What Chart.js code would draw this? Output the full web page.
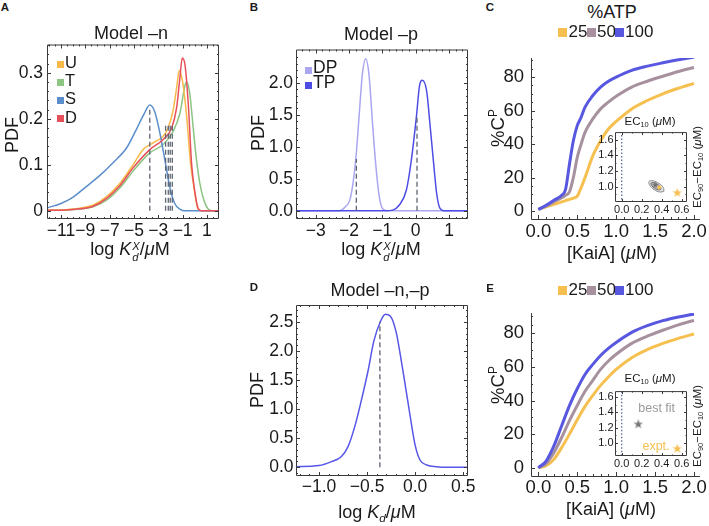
<!DOCTYPE html>
<html>
<head>
<meta charset="utf-8">
<script src="https://cdn.jsdelivr.net/npm/chart.js@4.4.1/dist/chart.umd.min.js"></script>
<style>
  html, body { margin: 0; padding: 0; background: #fff; }
  #fig { position: relative; width: 709px; height: 526px; overflow: hidden;
         font-family: "Liberation Sans", Arial, sans-serif; color: #1a1a1a; }
  #fig canvas { position: absolute; }
  .lab { position: absolute; white-space: nowrap; line-height: 1; transform: translate(-50%, -50%); }
  .rot { transform: translate(-50%, -50%) rotate(-90deg); }
  .sq { position: absolute; }
  .lab sub { font-size: 0.65em; vertical-align: -0.3em; line-height: 0; }
  .lab sup { font-size: 0.65em; vertical-align: 0.55em; line-height: 0; }
  .ss { display: inline-flex; flex-direction: column; font-size: 0.62em; line-height: 0.95;
        vertical-align: 0.45em; margin-left: 1px; font-style: italic; }
</style>
</head>
<body>
<div id="fig"></div>
<script>
// ---- A: Model -n, PDF of log Kd for U / T / S / D ----
const aSeries = ['U', 'T', 'S', 'D'];
const aColors = ['#f6b94a', '#8cc482', '#5b8ecb', '#e7505a'];
const aX_U = [-12.2, -10, -8.35, -7.25, -6.15, -5.05, -4.25, -3.4, -2.6, -2.2, -1.8, -1.5, -1.28, -1.0, -0.68, -0.34, -0.07, 0.2, 0.5, 2.1];
const aY_U = [0.001, 0.004, 0.013, 0.031, 0.060, 0.101, 0.133, 0.148, 0.162, 0.180, 0.216, 0.266, 0.305, 0.280, 0.209, 0.101, 0.051, 0.009, 0, 0];
const aX_T = [-12.2, -10, -8.35, -7.25, -6.15, -5.05, -3.7, -2.6, -1.77, -1.22, -0.8, -0.65, -0.4, -0.13, 0.15, 0.42, 0.75, 1.1, 1.5, 2.1];
const aY_T = [0.001, 0.003, 0.009, 0.023, 0.050, 0.087, 0.126, 0.144, 0.173, 0.212, 0.273, 0.280, 0.252, 0.180, 0.109, 0.059, 0.023, 0.004, 0, 0];
const aX_S = [-12.2, -11, -10, -9, -7.8, -6.7, -5.6, -4.8, -4.2, -3.7, -3.3, -2.9, -2.45, -2.05, -1.65, -1.2, -0.8, 2.1];
const aY_S = [0.006, 0.016, 0.030, 0.051, 0.077, 0.105, 0.137, 0.177, 0.209, 0.230, 0.216, 0.173, 0.109, 0.051, 0.016, 0.003, 0, 0];
const aX_D = [-12.2, -10, -8.35, -7.25, -6.15, -5.05, -3.7, -2.6, -1.9, -1.5, -1.22, -1.03, -0.8, -0.53, -0.26, 0.01, 0.28, 0.6, 2.1];
const aY_D = [0.001, 0.003, 0.010, 0.027, 0.055, 0.094, 0.133, 0.155, 0.180, 0.223, 0.290, 0.332, 0.316, 0.230, 0.101, 0.040, 0.005, 0, 0];
const aMedX = [-3.7, -2.4, -2.18, -2.02, -1.85];
const aMedTop = [0.222, 0.186, 0.186, 0.186, 0.186];
const aXTicks = [-11, -9, -7, -5, -3, -1, 1];
const aYTicks = [0, 0.1, 0.2, 0.3];

// ---- B: Model -p, DP / TP ----
const bSeries = ['DP', 'TP'];
const bColors = ['#aaa6f0', '#4d4de6'];
const bX_DP = [-3.7, -2.3, -2.11, -1.95, -1.80, -1.70, -1.60, -1.50, -1.40, -1.30, -1.19, -1.09, -0.99, -0.85, 1.7];
const bY_DP = [0, 0, 0.062, 0.217, 0.786, 1.457, 2.13, 2.38, 2.13, 1.41, 0.68, 0.217, 0.03, 0, 0];
const bX_TP = [-3.7, -0.9, -0.69, -0.49, -0.28, -0.13, 0.02, 0.12, 0.2, 0.33, 0.43, 0.53, 0.63, 0.73, 0.85, 1.7];
const bY_TP = [0, 0, 0.01, 0.09, 0.32, 0.79, 1.46, 1.97, 2.04, 1.87, 1.35, 0.79, 0.27, 0.036, 0, 0];
const bMedX = [-1.78, 0.04];
const bMedTop = [0.81, 1.5];
const bXTicks = [-3, -2, -1, 0, 1];
const bYTicks = [0, 0.5, 1, 1.5, 2];

// ---- D: Model -n,-p ----
const dX = [-1.25, -1.0, -0.87, -0.77, -0.70, -0.63, -0.56, -0.49, -0.43, -0.36, -0.31, -0.26, -0.20, -0.15, -0.10, -0.05, 0, 0.05, 0.12, 0.22, 0.35, 0.6];
const dY = [0.01, 0.03, 0.097, 0.18, 0.35, 0.69, 1.15, 1.66, 2.17, 2.51, 2.63, 2.6, 2.34, 1.89, 1.38, 0.86, 0.38, 0.125, 0.04, 0.01, 0, 0];
const dMedX = [-0.367];
const dMedTop = [2.5];
const dXTicks = [-1, -0.5, 0, 0.5];
const dYTicks = [0, 0.5, 1, 1.5, 2, 2.5];

// ---- C / E: %C^P vs [KaiA] at %ATP 25 / 50 / 100 ----
const atpSeries = ['25', '50', '100'];
const atpColors = ['#f6c050', '#a7919f', '#5757e0'];
const cX = [0, 0.1, 0.2, 0.3, 0.35, 0.4, 0.45, 0.5, 0.55, 0.6, 0.7, 0.8, 0.9, 1.0, 1.2, 1.4, 1.6, 1.8, 2.0];
const cY25 = [1, 2.5, 4, 5.5, 6.3, 7, 7.8, 9, 14, 20, 33, 42, 49, 53.5, 61, 66, 70, 73.3, 76.2];
const cY50 = [1, 3, 5.5, 8, 9.5, 11.5, 20, 32, 40, 47, 55, 61, 65, 68.5, 74, 77.5, 80.5, 83.3, 85.7];
const cY100 = [1, 3.5, 6.5, 9.5, 13, 28, 42, 51, 56, 62, 69, 74, 77.5, 80, 84, 86.5, 88.5, 90.3, 91.8];
const eX = [0, 0.1, 0.2, 0.3, 0.4, 0.5, 0.6, 0.7, 0.8, 0.9, 1.0, 1.2, 1.4, 1.6, 1.8, 2.0];
const eY25 = [0, 1.2, 5, 12, 20, 28.5, 36.5, 43, 49, 54, 58.5, 65.5, 70.3, 74, 77, 79.6];
const eY50 = [0, 2.5, 9, 18, 28, 37, 45.5, 52, 58.5, 63.5, 67.5, 74, 78.3, 81.8, 85, 87.7];
const eY100 = [0, 4, 13, 25, 37, 47, 55.5, 61.5, 66.8, 71, 74.5, 80.5, 84.5, 87.5, 89.7, 91.5];
const cXTicks = [0, 0.5, 1, 1.5, 2];
const cYTicks = [0, 20, 40, 60, 80];

// ---- insets: EC10 vs EC90-EC10 ----
const insXTicks = [0, 0.2, 0.4, 0.6];
const insYTicks = [1.0, 1.2, 1.4, 1.6];
const insZeroX = [0, 0];
const insZeroY = [0.7, 1.8];
const cOuterX = [0.422, 0.384, 0.325, 0.280, 0.274, 0.312, 0.371, 0.416, 0.422];
const cOuterY = [0.940, 0.930, 0.960, 1.018, 1.065, 1.075, 1.042, 0.989, 0.940];
const cInnerX = [0.392, 0.368, 0.329, 0.298, 0.294, 0.318, 0.357, 0.388, 0.392];
const cInnerY = [0.964, 0.958, 0.979, 1.017, 1.046, 1.052, 1.029, 0.993, 0.964];
const cFitX = [0.335], cFitY = [1.02];
const cSampleX = [0.375], cSampleY = [0.99];
const exptX = [0.556], exptY = [0.92];
const eFitX = [0.166], eFitY = [1.245];

// ---------------------------------------------------------------
Chart.defaults.font.family = '"Liberation Sans", Arial, sans-serif';
Chart.defaults.color = '#1a1a1a';
const fig = document.getElementById('fig');
const INK = '#3a3a3a';

const pts = (xs, ys) => xs.map((x, i) => ({ x, y: ys[i] }));
const stems = (xs, tops) => xs.flatMap((x, i) => [{ x, y: 0 }, { x, y: tops[i] }, { x, y: null }]);
const curve = (data, color, width) => ({ data, borderColor: color, borderWidth: width, pointRadius: 0,
  cubicInterpolationMode: 'monotone', fill: false });
const dashed = (data) => ({ data, borderColor: '#5d6472', borderWidth: 1.3, borderDash: [5, 3],
  pointRadius: 0, spanGaps: false });
const minus = d => v => (v < 0 ? '\u2212' : '') + Math.abs(v).toFixed(d);

function starImg(color, size) {
  const c = document.createElement('canvas');
  c.width = c.height = size;
  const g = c.getContext('2d');
  g.fillStyle = color;
  g.beginPath();
  for (let i = 0; i < 10; i++) {
    const r = i % 2 ? size * 0.2 : size * 0.5;
    const a = -Math.PI / 2 + i * Math.PI / 5;
    g.lineTo(size / 2 + r * Math.cos(a), size / 2 + r * Math.sin(a));
  }
  g.closePath();
  g.fill();
  return c;
}

// frame / axes with inward major+minor ticks (Mathematica look)
const frameTicks = {
  id: 'frameTicks',
  beforeDraw(chart, args, o) {
    if (!o.fill) return;
    const a = chart.chartArea, ctx = chart.ctx;
    ctx.save();
    ctx.fillStyle = o.fill;
    ctx.fillRect(a.left, a.top, a.right - a.left, a.bottom - a.top);
    ctx.restore();
  },
  afterDatasetsDraw(chart, args, o) {
    const { ctx, chartArea: a } = chart;
    const sx = chart.scales.x, sy = chart.scales.y;
    const L = o.len || 4;
    const marks = (scale, n) => {
      const vals = scale.ticks.map(t => t.value);
      const out = vals.map(v => [v, 1]);
      const step = vals[1] - vals[0];
      for (let m = vals[0] - step; m <= vals[vals.length - 1] + step / 2; m += step)
        for (let k = 1; k < n; k++) out.push([m + k * step / n, 0.5]);
      return out.filter(([v]) => v >= scale.min && v <= scale.max);
    };
    ctx.save();
    ctx.strokeStyle = INK;
    ctx.lineWidth = 1;
    ctx.beginPath();
    marks(sx, o.nx || 1).forEach(([v, f]) => {
      const px = Math.round(sx.getPixelForValue(v)) + 0.5;
      ctx.moveTo(px, a.bottom); ctx.lineTo(px, a.bottom - L * f);
      if (o.box) { ctx.moveTo(px, a.top); ctx.lineTo(px, a.top + L * f); }
    });
    marks(sy, o.ny || 1).forEach(([v, f]) => {
      const py = Math.round(sy.getPixelForValue(v)) + 0.5;
      ctx.moveTo(a.left, py); ctx.lineTo(a.left + L * f, py);
      if (o.box) { ctx.moveTo(a.right, py); ctx.lineTo(a.right - L * f, py); }
    });
    if (o.box) {
      ctx.rect(a.left + 0.5, a.top + 0.5, a.right - a.left - 1, a.bottom - a.top - 1);
    } else {
      ctx.moveTo(a.left + 0.5, a.top);
      ctx.lineTo(a.left + 0.5, a.bottom + 0.5);
      ctx.lineTo(a.right, a.bottom + 0.5);
    }
    ctx.stroke();
    ctx.restore();
  }
};

function axis(min, max, ticks, fmt, size, padding) {
  return {
    type: 'linear', min, max,
    grid: { display: false, drawTicks: false }, border: { display: false },
    afterBuildTicks: s => { s.ticks = ticks.map(v => ({ value: v })); },
    ticks: { font: { size }, color: '#1a1a1a', padding, autoSkip: false, maxRotation: 0, minRotation: 0, callback: fmt }
  };
}

function makeChart(area, pad, datasets, xAxis, yAxis, frame) {
  const cv = document.createElement('canvas');
  const w = area.r - area.l + pad.l + pad.r, h = area.b - area.t + pad.t + pad.b;
  cv.width = w; cv.height = h;
  Object.assign(cv.style, { left: (area.l - pad.l) + 'px', top: (area.t - pad.t) + 'px', width: w + 'px', height: h + 'px' });
  fig.appendChild(cv);
  xAxis.afterFit = s => { s.height = pad.b; };
  yAxis.afterFit = s => { s.width = pad.l; };
  return new Chart(cv, {
    type: 'line',
    data: { datasets },
    options: {
      responsive: false, animation: false, devicePixelRatio: 1,
      layout: { padding: { top: pad.t, right: pad.r, left: 0, bottom: 0 } },
      plugins: { legend: { display: false }, tooltip: { enabled: false }, frameTicks: frame },
      scales: { x: xAxis, y: yAxis }
    },
    plugins: [frameTicks]
  });
}

function label(html, x, y, size, o = {}) {
  const d = document.createElement('div');
  d.className = 'lab' + (o.rot ? ' rot' : '');
  Object.assign(d.style, { left: x + 'px', top: y + 'px', fontSize: size + 'px' });
  if (o.color) d.style.color = o.color;
  if (o.bold) d.style.fontWeight = 'bold';
  if (o.left) d.style.transform = 'translate(0, -50%)';
  d.innerHTML = html;
  fig.appendChild(d);
}
function square(x, y, s, color) {
  const d = document.createElement('div');
  d.className = 'sq';
  Object.assign(d.style, { left: x + 'px', top: y + 'px', width: s + 'px', height: s + 'px', background: color });
  fig.appendChild(d);
}

// ---- panel A ----
const aXs = [aX_U, aX_T, aX_S, aX_D], aYs = [aY_U, aY_T, aY_S, aY_D];
makeChart({ l: 47, t: 42, r: 219, b: 219 }, { l: 46, t: 12, r: 10, b: 30 },
  [dashed(stems(aMedX, aMedTop))].concat([3, 2, 0, 1].map(i => curve(pts(aXs[i], aYs[i]), aColors[i], 1.5))),
  axis(-12.15, 1.99, aXTicks, minus(0), 17.5, 1.5),
  axis(-0.0178, 0.3615, aYTicks, v => v === 0 ? '0' : v.toFixed(1), 17.5, 4),
  { box: true, nx: 4, ny: 5 });

// ---- panel B ----
makeChart({ l: 296, t: 48, r: 468, b: 219 }, { l: 45, t: 12, r: 12, b: 30 },
  [dashed(stems(bMedX, bMedTop)), curve(pts(bX_TP, bY_TP), bColors[1], 1.5), curve(pts(bX_DP, bY_DP), bColors[0], 1.5)],
  axis(-3.59, 1.57, bXTicks, minus(0), 17.5, 1.5),
  axis(-0.129, 2.523, bYTicks, v => v.toFixed(1), 17.5, 3),
  { box: true, nx: 5, ny: 5 });

// ---- panel D ----
makeChart({ l: 296, t: 304, r: 468, b: 476 }, { l: 45, t: 12, r: 14, b: 30 },
  [dashed(stems(dMedX, dMedTop)), curve(pts(dX, dY), '#5656e8', 1.5)],
  axis(-1.24, 0.55, dXTicks, minus(1), 17.5, 1),
  axis(-0.15, 2.79, dYTicks, v => v.toFixed(1), 17.5, 2.5),
  { box: true, nx: 5, ny: 5 });

// ---- panels C and E ----
const cYs = [cY25, cY50, cY100], eYs = [eY25, eY50, eY100];
makeChart({ l: 531, t: 50, r: 700, b: 219 }, { l: 45, t: 10, r: 9, b: 30 },
  [2, 1, 0].map(i => curve(pts(cX, cYs[i]), atpColors[i], 3)),
  axis(-0.094, 2.077, cXTicks, v => v.toFixed(1), 18.5, 1.5),
  axis(-4.7, 91.3, cYTicks, v => String(v), 18.5, 7),
  { box: false, nx: 5, ny: 4 });
makeChart({ l: 531, t: 305, r: 700, b: 476 }, { l: 45, t: 10, r: 9, b: 30 },
  [2, 1, 0].map(i => curve(pts(eX, eYs[i]), atpColors[i], 3)),
  axis(-0.094, 2.077, cXTicks, v => v.toFixed(1), 18.5, 1),
  axis(-4.9, 92, cYTicks, v => String(v), 18.5, 7),
  { box: false, nx: 5, ny: 4 });

// ---- insets ----
const zeroLine = { data: pts(insZeroX, insZeroY), borderColor: '#50608a', borderWidth: 1.2, borderDash: [1.5, 2], pointRadius: 0 };
const marker = (xs, ys, style, r) => ({ data: pts(xs, ys), showLine: false, pointStyle: style, pointRadius: r,
  pointBackgroundColor: '#f6bf4f', pointBorderWidth: 0 });
const contour = (xs, ys, fillC, lineC) => ({ data: pts(xs, ys), borderColor: lineC, borderWidth: 1, backgroundColor: fillC,
  fill: 'shape', tension: 0.4, pointRadius: 0 });

makeChart({ l: 615, t: 128, r: 687, b: 202 }, { l: 18, t: 4, r: 6, b: 14 },
  [marker(exptX, exptY, starImg('#f6bf4f', 10), 5),
   marker(cSampleX, cSampleY, 'circle', 2),
   marker(cFitX, cFitY, starImg('#6f6f6f', 7), 4),
   contour(cInnerX, cInnerY, 'rgba(150,150,150,0.55)', '#6f6f6f'),
   contour(cOuterX, cOuterY, 'rgba(210,210,210,0.6)', '#8c8c8c'),
   zeroLine],
  axis(-0.067, 0.653, insXTicks, v => v.toFixed(1), 11, 1.5),
  axis(0.803, 1.697, insYTicks, v => v.toFixed(1), 11, 1.5),
  { box: true, nx: 2, ny: 2, len: 3, fill: '#fff' });

makeChart({ l: 615, t: 387, r: 687, b: 456 }, { l: 18, t: 4, r: 6, b: 14 },
  [marker(exptX, [0.927], starImg('#f6bf4f', 10), 5),
   marker(eFitX, eFitY, starImg('#777777', 10), 5),
   { ...zeroLine }],
  axis(-0.067, 0.653, insXTicks, v => v.toFixed(1), 11, 1.5),
  axis(0.832, 1.677, insYTicks, v => v.toFixed(1), 11, 1.5),
  { box: true, nx: 2, ny: 2, len: 3, fill: '#fff' });

// ---- text ----
[['A', 5, 8], ['B', 254, 8], ['C', 490, 8], ['D', 254, 288], ['E', 490, 289]]
  .forEach(([t, x, y]) => label(t, x, y, 11.5, { bold: true }));

label('Model \u2013n', 131, 33, 18);
label('Model \u2013p', 381, 33.5, 18);
label('Model \u2013n,\u2013p', 380, 290, 18);
label('%ATP', 612, 12, 18);

label('PDF', 12, 135, 18, { rot: true });
label('PDF', 258, 132.5, 18, { rot: true });
label('PDF', 257, 390, 18, { rot: true });
label('%C<sup>P</sup>', 498, 128, 18.5, { rot: true });
label('%C<sup>P</sup>', 498, 385, 18.5, { rot: true });

const kdX = 'log <i>K</i><span class="ss"><span>X</span><span>d</span></span>/<i>\u03bc</i>M';
label(kdX, 130, 251, 18);
label(kdX, 381, 251, 18);
label('log <i>K</i><sub><i>d</i></sub>/<i>\u03bc</i>M', 377, 512, 18);
label('[KaiA] (<i>\u03bc</i>M)', 612, 253, 18);
label('[KaiA] (<i>\u03bc</i>M)', 611, 509, 18);

// legends
aSeries.forEach((s, i) => {
  const cy = 62 + i * 18.2;
  square(57, cy - 1.3, 7, aColors[i]);
  label(s, 65, cy, 16.5, { left: true });
});
bSeries.forEach((s, i) => {
  const cy = 68 + i * 15;
  square(305, cy - 1.3, 7, bColors[i]);
  label(s, 313, cy, 17.5, { left: true });
});
[31, 289].forEach(cy => {
  const sqX = [558, 587, 615], txX = [568.5, 597, 625];
  atpSeries.forEach((s, i) => {
    square(sqX[i], cy - 2.7, 9, atpColors[i]);
    label(s, txX[i], cy, 17, { left: true });
  });
});

// inset text
[[121.5, 166.5], [378.5, 426]].forEach(([ty, ry]) => {
  label('EC<sub>10</sub> (<i>\u03bc</i>M)', 650, ty, 11.5);
  label('EC<sub>90</sub>\u2212EC<sub>10</sub> (<i>\u03bc</i>M)', 698, ry, 11.5, { rot: true });
});
label('best fit', 656.7, 408.3, 12.5, { color: '#9a9a9a' });
label('expt.', 656, 446, 12.5, { color: '#f6bf4f' });
</script>
</body>
</html>
